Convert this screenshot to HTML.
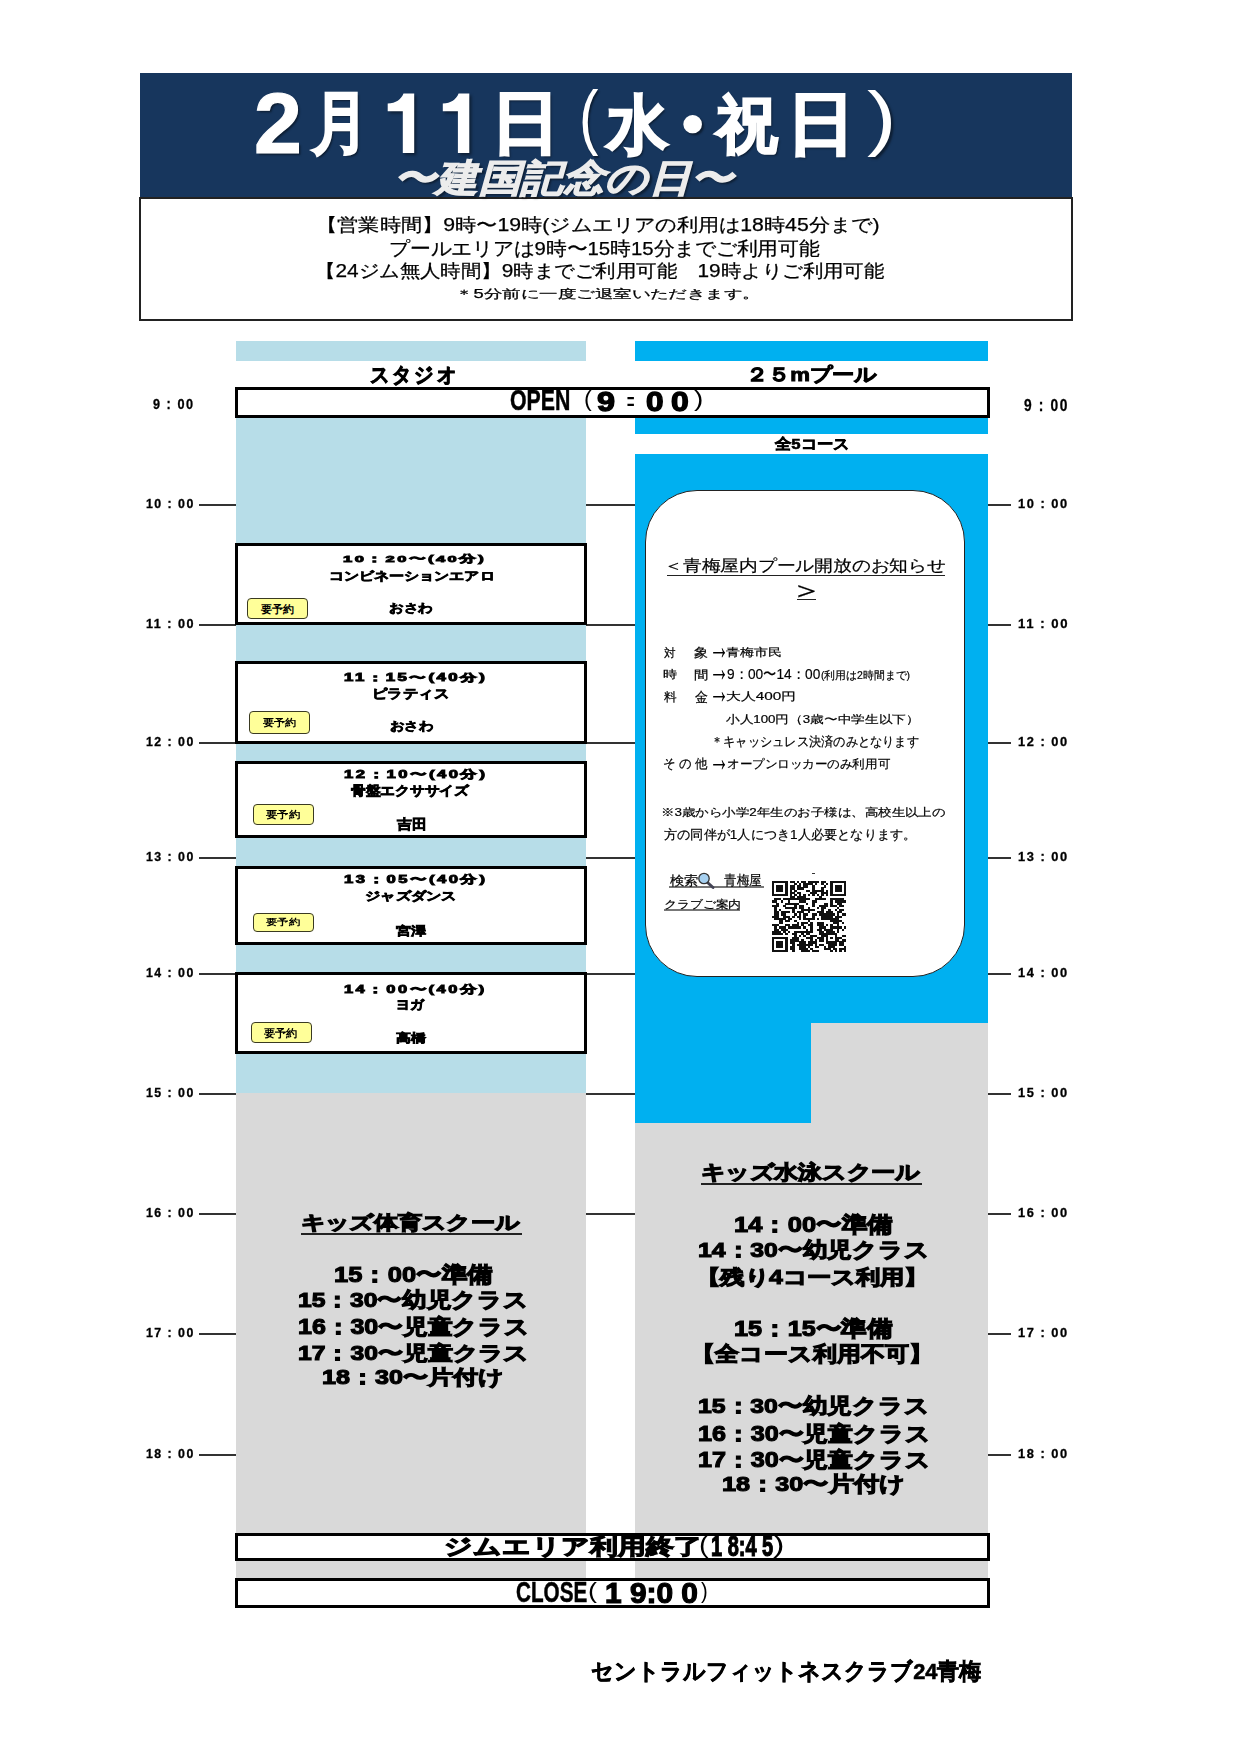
<!DOCTYPE html>
<html lang="ja"><head><meta charset="utf-8">
<style>
html,body{margin:0;padding:0;background:#fff;}
body{width:1240px;height:1754px;position:relative;overflow:hidden;font-family:"Liberation Sans",sans-serif;color:#000;}
.a{position:absolute;}
.t{position:absolute;white-space:nowrap;transform-origin:0 0;}
.lb{background:#b7dde8;}
.pb{background:#00b0f0;}
.gr{background:#d9d9d9;}
.box{position:absolute;box-sizing:border-box;border:3px solid #000;background:#fff;}
.ln{position:absolute;height:1.5px;background:#333;}
.badge{position:absolute;box-sizing:border-box;border:1.5px solid #3a3a22;border-radius:4px;background:#ffff99;}
</style></head><body>
<div class="a" style="left:140px;top:73px;width:932px;height:124px;background:#17365d;"></div>
<div class="a lb" style="left:236px;top:341px;width:350px;height:20px;"></div>
<div class="a pb" style="left:635px;top:341px;width:353px;height:20px;"></div>
<div class="a lb" style="left:236px;top:417px;width:350px;height:676px;"></div>
<div class="a gr" style="left:236px;top:1093px;width:350px;height:441px;"></div>
<div class="a gr" style="left:236px;top:1560px;width:350px;height:19px;"></div>
<div class="a pb" style="left:635px;top:417px;width:353px;height:17px;"></div>
<div class="a pb" style="left:635px;top:454px;width:353px;height:569px;"></div>
<div class="a pb" style="left:635px;top:1023px;width:176px;height:100px;"></div>
<div class="a gr" style="left:811px;top:1023px;width:177px;height:100px;"></div>
<div class="a gr" style="left:635px;top:1123px;width:353px;height:411px;"></div>
<div class="a gr" style="left:635px;top:1560px;width:353px;height:19px;"></div>
<div class="ln" style="left:199px;top:504px;width:37px;"></div>
<div class="ln" style="left:988px;top:504px;width:23px;"></div>
<div class="ln" style="left:586px;top:504px;width:49px;"></div>
<div class="ln" style="left:199px;top:624px;width:37px;"></div>
<div class="ln" style="left:988px;top:624px;width:23px;"></div>
<div class="ln" style="left:586px;top:624px;width:49px;"></div>
<div class="ln" style="left:199px;top:742px;width:37px;"></div>
<div class="ln" style="left:988px;top:742px;width:23px;"></div>
<div class="ln" style="left:586px;top:742px;width:49px;"></div>
<div class="ln" style="left:199px;top:857px;width:37px;"></div>
<div class="ln" style="left:988px;top:857px;width:23px;"></div>
<div class="ln" style="left:586px;top:857px;width:49px;"></div>
<div class="ln" style="left:199px;top:973px;width:37px;"></div>
<div class="ln" style="left:988px;top:973px;width:23px;"></div>
<div class="ln" style="left:586px;top:973px;width:49px;"></div>
<div class="ln" style="left:199px;top:1093px;width:37px;"></div>
<div class="ln" style="left:988px;top:1093px;width:23px;"></div>
<div class="ln" style="left:586px;top:1093px;width:49px;"></div>
<div class="ln" style="left:199px;top:1213px;width:37px;"></div>
<div class="ln" style="left:988px;top:1213px;width:23px;"></div>
<div class="ln" style="left:586px;top:1213px;width:49px;"></div>
<div class="ln" style="left:199px;top:1333px;width:37px;"></div>
<div class="ln" style="left:988px;top:1333px;width:23px;"></div>
<div class="ln" style="left:199px;top:1454px;width:37px;"></div>
<div class="ln" style="left:988px;top:1454px;width:23px;"></div>
<div class="a" style="left:139px;top:197px;width:934px;height:124px;box-sizing:border-box;border:2px solid #222;"></div>
<div class="box" style="left:235px;top:387px;width:755px;height:31px;"></div>
<div class="box" style="left:235px;top:543px;width:352px;height:82px;"></div>
<div class="box" style="left:235px;top:661px;width:352px;height:83px;"></div>
<div class="box" style="left:235px;top:761px;width:352px;height:77px;"></div>
<div class="box" style="left:235px;top:866px;width:352px;height:79px;"></div>
<div class="box" style="left:235px;top:972px;width:352px;height:82px;"></div>
<div class="box" style="left:235px;top:1533px;width:755px;height:28px;"></div>
<div class="box" style="left:235px;top:1578px;width:755px;height:30px;"></div>
<div class="badge" style="left:246.5px;top:598.2px;width:61.6px;height:20.9px;"></div>
<div class="badge" style="left:249.2px;top:711.4px;width:61.3px;height:22.4px;"></div>
<div class="badge" style="left:252.6px;top:803.5px;width:61.1px;height:21.8px;"></div>
<div class="badge" style="left:252.6px;top:912.8px;width:61.1px;height:19.2px;"></div>
<div class="badge" style="left:250.5px;top:1022.0px;width:61.1px;height:21.3px;"></div>
<div class="a" style="left:645px;top:490px;width:320px;height:487px;box-sizing:border-box;border:1.5px solid #222;border-radius:52px;background:#fff;"></div>
<div class="a" style="left:666.8px;top:574.5px;width:278.70000000000005px;height:1.5px;background:#222;"></div>
<div class="a" style="left:796.7px;top:598.7px;width:19.299999999999955px;height:1.5px;background:#222;"></div>
<div class="a" style="left:669px;top:886px;width:95px;height:1.5px;background:#777;"></div>
<div class="a" style="left:663.5px;top:909px;width:76.5px;height:1.5px;background:#777;"></div>
<div class="a" style="left:301px;top:1232.5px;width:220.60000000000002px;height:2px;background:#222;"></div>
<div class="a" style="left:701.4px;top:1182.5px;width:220.60000000000002px;height:2px;background:#222;"></div>
<svg class="a" style="left:772.1px;top:881.4px;" width="74.2" height="71.3" viewBox="0 0 74.2 71.3" shape-rendering="crispEdges"><g fill="#111"><rect x="0.00" y="0.00" width="15.79" height="2.21"/><rect x="17.99" y="0.00" width="4.55" height="2.21"/><rect x="24.73" y="0.00" width="2.30" height="2.21"/><rect x="29.23" y="0.00" width="4.55" height="2.21"/><rect x="35.98" y="0.00" width="11.29" height="2.21"/><rect x="49.47" y="0.00" width="4.55" height="2.21"/><rect x="58.46" y="0.00" width="15.79" height="2.21"/><rect x="0.00" y="2.16" width="2.30" height="2.21"/><rect x="13.49" y="2.16" width="2.30" height="2.21"/><rect x="22.48" y="2.16" width="2.30" height="2.21"/><rect x="26.98" y="2.16" width="2.30" height="2.21"/><rect x="31.48" y="2.16" width="9.04" height="2.21"/><rect x="42.72" y="2.16" width="2.30" height="2.21"/><rect x="49.47" y="2.16" width="2.30" height="2.21"/><rect x="53.96" y="2.16" width="2.30" height="2.21"/><rect x="58.46" y="2.16" width="2.30" height="2.21"/><rect x="71.95" y="2.16" width="2.30" height="2.21"/><rect x="0.00" y="4.32" width="2.30" height="2.21"/><rect x="4.50" y="4.32" width="6.80" height="2.21"/><rect x="13.49" y="4.32" width="2.30" height="2.21"/><rect x="17.99" y="4.32" width="4.55" height="2.21"/><rect x="24.73" y="4.32" width="4.55" height="2.21"/><rect x="31.48" y="4.32" width="4.55" height="2.21"/><rect x="40.47" y="4.32" width="2.30" height="2.21"/><rect x="51.72" y="4.32" width="2.30" height="2.21"/><rect x="58.46" y="4.32" width="2.30" height="2.21"/><rect x="62.96" y="4.32" width="6.80" height="2.21"/><rect x="71.95" y="4.32" width="2.30" height="2.21"/><rect x="0.00" y="6.48" width="2.30" height="2.21"/><rect x="4.50" y="6.48" width="6.80" height="2.21"/><rect x="13.49" y="6.48" width="2.30" height="2.21"/><rect x="17.99" y="6.48" width="4.55" height="2.21"/><rect x="24.73" y="6.48" width="6.80" height="2.21"/><rect x="40.47" y="6.48" width="2.30" height="2.21"/><rect x="49.47" y="6.48" width="2.30" height="2.21"/><rect x="58.46" y="6.48" width="2.30" height="2.21"/><rect x="62.96" y="6.48" width="6.80" height="2.21"/><rect x="71.95" y="6.48" width="2.30" height="2.21"/><rect x="0.00" y="8.64" width="2.30" height="2.21"/><rect x="4.50" y="8.64" width="6.80" height="2.21"/><rect x="13.49" y="8.64" width="2.30" height="2.21"/><rect x="17.99" y="8.64" width="2.30" height="2.21"/><rect x="22.48" y="8.64" width="2.30" height="2.21"/><rect x="33.73" y="8.64" width="4.55" height="2.21"/><rect x="40.47" y="8.64" width="11.29" height="2.21"/><rect x="53.96" y="8.64" width="2.30" height="2.21"/><rect x="58.46" y="8.64" width="2.30" height="2.21"/><rect x="62.96" y="8.64" width="6.80" height="2.21"/><rect x="71.95" y="8.64" width="2.30" height="2.21"/><rect x="0.00" y="10.80" width="2.30" height="2.21"/><rect x="13.49" y="10.80" width="2.30" height="2.21"/><rect x="17.99" y="10.80" width="4.55" height="2.21"/><rect x="24.73" y="10.80" width="4.55" height="2.21"/><rect x="38.22" y="10.80" width="6.80" height="2.21"/><rect x="49.47" y="10.80" width="6.80" height="2.21"/><rect x="58.46" y="10.80" width="2.30" height="2.21"/><rect x="71.95" y="10.80" width="2.30" height="2.21"/><rect x="0.00" y="12.96" width="15.79" height="2.21"/><rect x="17.99" y="12.96" width="2.30" height="2.21"/><rect x="22.48" y="12.96" width="2.30" height="2.21"/><rect x="26.98" y="12.96" width="2.30" height="2.21"/><rect x="31.48" y="12.96" width="2.30" height="2.21"/><rect x="35.98" y="12.96" width="2.30" height="2.21"/><rect x="40.47" y="12.96" width="2.30" height="2.21"/><rect x="44.97" y="12.96" width="2.30" height="2.21"/><rect x="49.47" y="12.96" width="2.30" height="2.21"/><rect x="53.96" y="12.96" width="2.30" height="2.21"/><rect x="58.46" y="12.96" width="15.79" height="2.21"/><rect x="17.99" y="15.12" width="4.55" height="2.21"/><rect x="24.73" y="15.12" width="9.04" height="2.21"/><rect x="47.22" y="15.12" width="2.30" height="2.21"/><rect x="2.25" y="17.28" width="6.80" height="2.21"/><rect x="11.24" y="17.28" width="27.03" height="2.21"/><rect x="42.72" y="17.28" width="11.29" height="2.21"/><rect x="58.46" y="17.28" width="13.54" height="2.21"/><rect x="0.00" y="19.45" width="4.55" height="2.21"/><rect x="8.99" y="19.45" width="2.30" height="2.21"/><rect x="15.74" y="19.45" width="2.30" height="2.21"/><rect x="26.98" y="19.45" width="6.80" height="2.21"/><rect x="40.47" y="19.45" width="4.55" height="2.21"/><rect x="58.46" y="19.45" width="2.30" height="2.21"/><rect x="62.96" y="19.45" width="11.29" height="2.21"/><rect x="4.50" y="21.61" width="2.30" height="2.21"/><rect x="13.49" y="21.61" width="13.54" height="2.21"/><rect x="33.73" y="21.61" width="2.30" height="2.21"/><rect x="40.47" y="21.61" width="2.30" height="2.21"/><rect x="51.72" y="21.61" width="4.55" height="2.21"/><rect x="58.46" y="21.61" width="2.30" height="2.21"/><rect x="65.21" y="21.61" width="4.55" height="2.21"/><rect x="0.00" y="23.77" width="6.80" height="2.21"/><rect x="11.24" y="23.77" width="2.30" height="2.21"/><rect x="22.48" y="23.77" width="2.30" height="2.21"/><rect x="26.98" y="23.77" width="4.55" height="2.21"/><rect x="40.47" y="23.77" width="2.30" height="2.21"/><rect x="47.22" y="23.77" width="9.04" height="2.21"/><rect x="58.46" y="23.77" width="6.80" height="2.21"/><rect x="67.45" y="23.77" width="4.55" height="2.21"/><rect x="2.25" y="25.93" width="2.30" height="2.21"/><rect x="13.49" y="25.93" width="11.29" height="2.21"/><rect x="26.98" y="25.93" width="4.55" height="2.21"/><rect x="35.98" y="25.93" width="2.30" height="2.21"/><rect x="44.97" y="25.93" width="2.30" height="2.21"/><rect x="49.47" y="25.93" width="4.55" height="2.21"/><rect x="65.21" y="25.93" width="2.30" height="2.21"/><rect x="2.25" y="28.09" width="2.30" height="2.21"/><rect x="6.75" y="28.09" width="2.30" height="2.21"/><rect x="20.24" y="28.09" width="2.30" height="2.21"/><rect x="29.23" y="28.09" width="13.54" height="2.21"/><rect x="49.47" y="28.09" width="2.30" height="2.21"/><rect x="56.21" y="28.09" width="2.30" height="2.21"/><rect x="62.96" y="28.09" width="2.30" height="2.21"/><rect x="67.45" y="28.09" width="4.55" height="2.21"/><rect x="2.25" y="30.25" width="4.55" height="2.21"/><rect x="8.99" y="30.25" width="9.04" height="2.21"/><rect x="20.24" y="30.25" width="2.30" height="2.21"/><rect x="24.73" y="30.25" width="6.80" height="2.21"/><rect x="35.98" y="30.25" width="2.30" height="2.21"/><rect x="44.97" y="30.25" width="6.80" height="2.21"/><rect x="53.96" y="30.25" width="6.80" height="2.21"/><rect x="65.21" y="30.25" width="4.55" height="2.21"/><rect x="2.25" y="32.41" width="4.55" height="2.21"/><rect x="8.99" y="32.41" width="4.55" height="2.21"/><rect x="22.48" y="32.41" width="2.30" height="2.21"/><rect x="26.98" y="32.41" width="2.30" height="2.21"/><rect x="31.48" y="32.41" width="4.55" height="2.21"/><rect x="40.47" y="32.41" width="4.55" height="2.21"/><rect x="47.22" y="32.41" width="15.79" height="2.21"/><rect x="65.21" y="32.41" width="2.30" height="2.21"/><rect x="69.70" y="32.41" width="4.55" height="2.21"/><rect x="0.00" y="34.57" width="6.80" height="2.21"/><rect x="11.24" y="34.57" width="6.80" height="2.21"/><rect x="20.24" y="34.57" width="2.30" height="2.21"/><rect x="24.73" y="34.57" width="4.55" height="2.21"/><rect x="31.48" y="34.57" width="2.30" height="2.21"/><rect x="40.47" y="34.57" width="2.30" height="2.21"/><rect x="49.47" y="34.57" width="11.29" height="2.21"/><rect x="62.96" y="34.57" width="6.80" height="2.21"/><rect x="2.25" y="36.73" width="11.29" height="2.21"/><rect x="15.74" y="36.73" width="4.55" height="2.21"/><rect x="26.98" y="36.73" width="2.30" height="2.21"/><rect x="31.48" y="36.73" width="11.29" height="2.21"/><rect x="44.97" y="36.73" width="2.30" height="2.21"/><rect x="49.47" y="36.73" width="18.04" height="2.21"/><rect x="6.75" y="38.89" width="4.55" height="2.21"/><rect x="13.49" y="38.89" width="4.55" height="2.21"/><rect x="22.48" y="38.89" width="2.30" height="2.21"/><rect x="35.98" y="38.89" width="2.30" height="2.21"/><rect x="58.46" y="38.89" width="11.29" height="2.21"/><rect x="6.75" y="41.05" width="4.55" height="2.21"/><rect x="24.73" y="41.05" width="2.30" height="2.21"/><rect x="29.23" y="41.05" width="6.80" height="2.21"/><rect x="38.22" y="41.05" width="2.30" height="2.21"/><rect x="44.97" y="41.05" width="6.80" height="2.21"/><rect x="60.71" y="41.05" width="6.80" height="2.21"/><rect x="69.70" y="41.05" width="2.30" height="2.21"/><rect x="0.00" y="43.21" width="6.80" height="2.21"/><rect x="13.49" y="43.21" width="4.55" height="2.21"/><rect x="20.24" y="43.21" width="6.80" height="2.21"/><rect x="29.23" y="43.21" width="2.30" height="2.21"/><rect x="35.98" y="43.21" width="4.55" height="2.21"/><rect x="44.97" y="43.21" width="6.80" height="2.21"/><rect x="53.96" y="43.21" width="2.30" height="2.21"/><rect x="58.46" y="43.21" width="2.30" height="2.21"/><rect x="65.21" y="43.21" width="2.30" height="2.21"/><rect x="2.25" y="45.37" width="2.30" height="2.21"/><rect x="6.75" y="45.37" width="6.80" height="2.21"/><rect x="15.74" y="45.37" width="13.54" height="2.21"/><rect x="31.48" y="45.37" width="2.30" height="2.21"/><rect x="38.22" y="45.37" width="2.30" height="2.21"/><rect x="47.22" y="45.37" width="6.80" height="2.21"/><rect x="58.46" y="45.37" width="11.29" height="2.21"/><rect x="71.95" y="45.37" width="2.30" height="2.21"/><rect x="2.25" y="47.53" width="4.55" height="2.21"/><rect x="8.99" y="47.53" width="6.80" height="2.21"/><rect x="33.73" y="47.53" width="2.30" height="2.21"/><rect x="38.22" y="47.53" width="2.30" height="2.21"/><rect x="44.97" y="47.53" width="4.55" height="2.21"/><rect x="51.72" y="47.53" width="9.04" height="2.21"/><rect x="65.21" y="47.53" width="2.30" height="2.21"/><rect x="69.70" y="47.53" width="2.30" height="2.21"/><rect x="0.00" y="49.69" width="9.04" height="2.21"/><rect x="11.24" y="49.69" width="2.30" height="2.21"/><rect x="15.74" y="49.69" width="2.30" height="2.21"/><rect x="22.48" y="49.69" width="18.04" height="2.21"/><rect x="47.22" y="49.69" width="4.55" height="2.21"/><rect x="53.96" y="49.69" width="9.04" height="2.21"/><rect x="65.21" y="49.69" width="2.30" height="2.21"/><rect x="0.00" y="51.85" width="11.29" height="2.21"/><rect x="13.49" y="51.85" width="2.30" height="2.21"/><rect x="20.24" y="51.85" width="4.55" height="2.21"/><rect x="29.23" y="51.85" width="2.30" height="2.21"/><rect x="33.73" y="51.85" width="4.55" height="2.21"/><rect x="47.22" y="51.85" width="18.04" height="2.21"/><rect x="22.48" y="54.02" width="2.30" height="2.21"/><rect x="26.98" y="54.02" width="2.30" height="2.21"/><rect x="31.48" y="54.02" width="2.30" height="2.21"/><rect x="38.22" y="54.02" width="6.80" height="2.21"/><rect x="49.47" y="54.02" width="6.80" height="2.21"/><rect x="62.96" y="54.02" width="2.30" height="2.21"/><rect x="69.70" y="54.02" width="4.55" height="2.21"/><rect x="0.00" y="56.18" width="15.79" height="2.21"/><rect x="20.24" y="56.18" width="6.80" height="2.21"/><rect x="33.73" y="56.18" width="6.80" height="2.21"/><rect x="44.97" y="56.18" width="6.80" height="2.21"/><rect x="53.96" y="56.18" width="2.30" height="2.21"/><rect x="58.46" y="56.18" width="2.30" height="2.21"/><rect x="62.96" y="56.18" width="6.80" height="2.21"/><rect x="0.00" y="58.34" width="2.30" height="2.21"/><rect x="13.49" y="58.34" width="2.30" height="2.21"/><rect x="17.99" y="58.34" width="9.04" height="2.21"/><rect x="29.23" y="58.34" width="2.30" height="2.21"/><rect x="38.22" y="58.34" width="2.30" height="2.21"/><rect x="42.72" y="58.34" width="2.30" height="2.21"/><rect x="47.22" y="58.34" width="4.55" height="2.21"/><rect x="53.96" y="58.34" width="2.30" height="2.21"/><rect x="62.96" y="58.34" width="4.55" height="2.21"/><rect x="69.70" y="58.34" width="4.55" height="2.21"/><rect x="0.00" y="60.50" width="2.30" height="2.21"/><rect x="4.50" y="60.50" width="6.80" height="2.21"/><rect x="13.49" y="60.50" width="2.30" height="2.21"/><rect x="17.99" y="60.50" width="4.55" height="2.21"/><rect x="26.98" y="60.50" width="6.80" height="2.21"/><rect x="35.98" y="60.50" width="9.04" height="2.21"/><rect x="53.96" y="60.50" width="11.29" height="2.21"/><rect x="67.45" y="60.50" width="4.55" height="2.21"/><rect x="0.00" y="62.66" width="2.30" height="2.21"/><rect x="4.50" y="62.66" width="6.80" height="2.21"/><rect x="13.49" y="62.66" width="2.30" height="2.21"/><rect x="20.24" y="62.66" width="2.30" height="2.21"/><rect x="24.73" y="62.66" width="15.79" height="2.21"/><rect x="42.72" y="62.66" width="2.30" height="2.21"/><rect x="47.22" y="62.66" width="4.55" height="2.21"/><rect x="56.21" y="62.66" width="9.04" height="2.21"/><rect x="67.45" y="62.66" width="4.55" height="2.21"/><rect x="0.00" y="64.82" width="2.30" height="2.21"/><rect x="4.50" y="64.82" width="6.80" height="2.21"/><rect x="13.49" y="64.82" width="2.30" height="2.21"/><rect x="17.99" y="64.82" width="4.55" height="2.21"/><rect x="26.98" y="64.82" width="6.80" height="2.21"/><rect x="35.98" y="64.82" width="2.30" height="2.21"/><rect x="42.72" y="64.82" width="4.55" height="2.21"/><rect x="51.72" y="64.82" width="2.30" height="2.21"/><rect x="56.21" y="64.82" width="6.80" height="2.21"/><rect x="71.95" y="64.82" width="2.30" height="2.21"/><rect x="0.00" y="66.98" width="2.30" height="2.21"/><rect x="13.49" y="66.98" width="2.30" height="2.21"/><rect x="17.99" y="66.98" width="4.55" height="2.21"/><rect x="26.98" y="66.98" width="9.04" height="2.21"/><rect x="38.22" y="66.98" width="2.30" height="2.21"/><rect x="51.72" y="66.98" width="6.80" height="2.21"/><rect x="60.71" y="66.98" width="4.55" height="2.21"/><rect x="67.45" y="66.98" width="6.80" height="2.21"/><rect x="0.00" y="69.14" width="15.79" height="2.21"/><rect x="20.24" y="69.14" width="2.30" height="2.21"/><rect x="29.23" y="69.14" width="9.04" height="2.21"/><rect x="40.47" y="69.14" width="6.80" height="2.21"/><rect x="58.46" y="69.14" width="2.30" height="2.21"/><rect x="62.96" y="69.14" width="2.30" height="2.21"/><rect x="67.45" y="69.14" width="2.30" height="2.21"/><rect x="71.95" y="69.14" width="2.30" height="2.21"/></g></svg>
<svg class="a" style="left:696px;top:871px;" width="20" height="20" viewBox="0 0 20 20"><line x1="11.5" y1="11.5" x2="17" y2="16.5" stroke="#445" stroke-width="3" stroke-linecap="round"/><circle cx="8" cy="7.5" r="5.2" fill="#a6d0f0" stroke="#333" stroke-width="1.3"/></svg>
<div class="a" style="left:812px;top:873px;width:3px;height:1px;background:#333;"></div>
<svg class="a" style="left:0;top:0;filter:drop-shadow(2px 2px 1.5px rgba(0,0,0,0.45));" width="600" height="200" viewBox="0 0 600 200"><g fill="#fff"><path transform="translate(0.0,0)" d="M414.2 93.4 L403.5 93.4 C401 99.5 396 103 387.7 103.4 L387.7 111.2 L402.8 111.2 L402.8 152.9 L414.2 152.9 Z"/><path transform="translate(55.1,0)" d="M414.2 93.4 L403.5 93.4 C401 99.5 396 103 387.7 103.4 L387.7 111.2 L402.8 111.2 L402.8 152.9 L414.2 152.9 Z"/></g></svg>
<div class="t" style="left:254.48px;top:81.40px;font-size:85.006px;line-height:85.006px;font-weight:bold;-webkit-text-stroke:1.2px #fff;transform:scaleX(1.0119);color:#fff;text-shadow:2px 2px 2px rgba(0,0,0,0.45);">2</div>
<div class="t" style="left:312.36px;top:89.30px;font-size:67.771px;line-height:67.771px;font-weight:bold;-webkit-text-stroke:2.2px #fff;transform:scaleX(0.8298);color:#fff;text-shadow:2px 2px 2px rgba(0,0,0,0.45);">月</div>
<div class="t" style="left:490.84px;top:88.00px;font-size:68.421px;line-height:68.421px;font-weight:bold;-webkit-text-stroke:2.2px #fff;transform:scaleX(1.0200);color:#fff;text-shadow:2px 2px 2px rgba(0,0,0,0.45);">日</div>
<div class="t" style="left:578.67px;top:80.10px;font-size:72.371px;line-height:72.371px;transform:scaleX(0.8056);color:#fff;text-shadow:2px 2px 2px rgba(0,0,0,0.45);">(</div>
<div class="t" style="left:607.37px;top:93.50px;font-size:63.842px;line-height:63.842px;font-weight:bold;-webkit-text-stroke:2.2px #fff;transform:scaleX(0.9551);color:#fff;text-shadow:2px 2px 2px rgba(0,0,0,0.45);">水</div>
<div class="t" style="left:642.56px;top:77.00px;font-size:96.149px;line-height:96.149px;font-weight:bold;transform:scaleX(1.0111);color:#fff;text-shadow:2px 2px 2px rgba(0,0,0,0.45);">・</div>
<div class="t" style="left:717.41px;top:94.00px;font-size:61.919px;line-height:61.919px;font-weight:bold;-webkit-text-stroke:2.2px #fff;transform:scaleX(0.9776);color:#fff;text-shadow:2px 2px 2px rgba(0,0,0,0.45);">祝</div>
<div class="t" style="left:786.77px;top:90.30px;font-size:67.907px;line-height:67.907px;font-weight:bold;-webkit-text-stroke:2.2px #fff;transform:scaleX(1.0040);color:#fff;text-shadow:2px 2px 2px rgba(0,0,0,0.45);">日</div>
<div class="t" style="left:867.39px;top:79.70px;font-size:73.005px;line-height:73.005px;transform:scaleX(1.2105);color:#fff;text-shadow:2px 2px 2px rgba(0,0,0,0.45);">)</div>
<div class="t" style="left:394.25px;top:159.70px;font-size:37.652px;line-height:37.652px;font-weight:bold;font-style:italic;-webkit-text-stroke:1.2px #ececec;transform:scaleX(1.1128);color:#ececec;text-shadow:2px 2px 2px rgba(0,0,0,0.45);">〜建国記念の日〜</div>
<div class="t" style="left:316.04px;top:215.70px;font-size:18.062px;line-height:18.062px;-webkit-text-stroke:0.25px #000;transform:scaleX(1.1781);">【営業時間】9時〜19時(ジムエリアの利用は18時45分まで)</div>
<div class="t" style="left:388.81px;top:239.70px;font-size:18.607px;line-height:18.607px;-webkit-text-stroke:0.25px #000;transform:scaleX(1.0944);">プールエリアは9時〜15時15分までご利用可能</div>
<div class="t" style="left:314.50px;top:261.70px;font-size:18.302px;line-height:18.302px;-webkit-text-stroke:0.25px #000;transform:scaleX(1.1367);">【24ジム無人時間】9時までご利用可能　19時よりご利用可能</div>
<div class="t" style="left:454.84px;top:289.30px;font-size:11.906px;line-height:11.906px;-webkit-text-stroke:0.25px #000;transform:scaleX(1.5401);">＊5分前に一度ご退室いただきます。</div>
<div class="t" style="left:370.30px;top:364.50px;font-size:21.290px;line-height:21.290px;font-weight:bold;letter-spacing:0.1em;-webkit-text-stroke:0.9px #000;transform:scaleX(0.9207);">スタジオ</div>
<div class="t" style="left:745.93px;top:364.90px;font-size:19.018px;line-height:19.018px;font-weight:bold;-webkit-text-stroke:0.9px #000;transform:scaleX(1.1670);">２５mプール</div>
<div class="t" style="left:509.86px;top:386.30px;font-size:28.660px;line-height:28.660px;font-weight:bold;-webkit-text-stroke:0.5px #000;transform:scaleX(0.7418);">OPEN</div>
<div class="t" style="left:584.17px;top:388.30px;font-size:22.563px;line-height:22.563px;transform:scaleX(1.0333);">(</div>
<div class="t" style="left:597.20px;top:389.20px;font-size:26.862px;line-height:26.862px;font-weight:bold;-webkit-text-stroke:1.3px #000;transform:scaleX(1.2067);">9</div>
<div class="t" style="left:623.20px;top:391.50px;font-size:17.113px;line-height:17.113px;font-weight:bold;transform:scaleX(2.7000);">:</div>
<div class="t" style="left:646.40px;top:389.20px;font-size:26.862px;line-height:26.862px;font-weight:bold;-webkit-text-stroke:1.3px #000;transform:scaleX(1.1733);">0</div>
<div class="t" style="left:671.20px;top:389.20px;font-size:26.862px;line-height:26.862px;font-weight:bold;-webkit-text-stroke:1.3px #000;transform:scaleX(1.1867);">0</div>
<div class="t" style="left:693.96px;top:388.30px;font-size:22.563px;line-height:22.563px;transform:scaleX(1.2400);">)</div>
<div class="t" style="left:775.00px;top:435.90px;font-size:15.370px;line-height:15.370px;font-weight:bold;-webkit-text-stroke:0.6px #000;transform:scaleX(1.0882);">全5コース</div>
<div class="t" style="left:342.50px;top:553.80px;font-size:9.936px;line-height:9.936px;font-weight:bold;letter-spacing:0.15em;-webkit-text-stroke:0.9px #000;transform:scaleX(1.6647);">10：20〜(40分)</div>
<div class="t" style="left:329.45px;top:570.80px;font-size:11.506px;line-height:11.506px;font-weight:bold;-webkit-text-stroke:0.7px #000;transform:scaleX(1.2543);">コンビネーションエアロ</div>
<div class="t" style="left:389.30px;top:601.80px;font-size:12.000px;line-height:12.000px;font-weight:bold;-webkit-text-stroke:0.7px #000;transform:scaleX(1.2139);">おさわ</div>
<div class="t" style="left:261.00px;top:603.90px;font-size:10.950px;line-height:10.950px;font-weight:bold;">要予約</div>
<div class="t" style="left:343.50px;top:672.60px;font-size:10.144px;line-height:10.144px;font-weight:bold;letter-spacing:0.15em;-webkit-text-stroke:0.9px #000;transform:scaleX(1.6529);">11：15〜(40分)</div>
<div class="t" style="left:372.03px;top:687.00px;font-size:13.064px;line-height:13.064px;font-weight:bold;-webkit-text-stroke:0.7px #000;transform:scaleX(1.1839);">ピラティス</div>
<div class="t" style="left:389.70px;top:720.00px;font-size:12.000px;line-height:12.000px;font-weight:bold;-webkit-text-stroke:0.7px #000;transform:scaleX(1.2028);">おさわ</div>
<div class="t" style="left:262.60px;top:717.80px;font-size:10.183px;line-height:10.183px;font-weight:bold;transform:scaleX(1.1133);">要予約</div>
<div class="t" style="left:343.50px;top:769.20px;font-size:11.151px;line-height:11.151px;font-weight:bold;letter-spacing:0.15em;-webkit-text-stroke:0.9px #000;transform:scaleX(1.4947);">12：10〜(40分)</div>
<div class="t" style="left:351.00px;top:784.40px;font-size:13.223px;line-height:13.223px;font-weight:bold;-webkit-text-stroke:0.7px #000;transform:scaleX(1.1333);">骨盤エクササイズ</div>
<div class="t" style="left:396.70px;top:817.70px;font-size:13.702px;line-height:13.702px;font-weight:bold;-webkit-text-stroke:0.7px #000;transform:scaleX(1.0667);">吉田</div>
<div class="t" style="left:265.80px;top:810.00px;font-size:10.129px;line-height:10.129px;font-weight:bold;transform:scaleX(1.1367);">要予約</div>
<div class="t" style="left:343.50px;top:874.20px;font-size:11.151px;line-height:11.151px;font-weight:bold;letter-spacing:0.15em;-webkit-text-stroke:0.9px #000;transform:scaleX(1.4947);">13：05〜(40分)</div>
<div class="t" style="left:365.03px;top:889.80px;font-size:12.278px;line-height:12.278px;font-weight:bold;-webkit-text-stroke:0.7px #000;transform:scaleX(1.2714);">ジャズダンス</div>
<div class="t" style="left:396.00px;top:924.90px;font-size:11.730px;line-height:11.730px;font-weight:bold;-webkit-text-stroke:0.7px #000;transform:scaleX(1.2500);">宮澤</div>
<div class="t" style="left:265.80px;top:917.90px;font-size:8.859px;line-height:8.859px;font-weight:bold;transform:scaleX(1.2630);">要予約</div>
<div class="t" style="left:343.50px;top:983.50px;font-size:10.892px;line-height:10.892px;font-weight:bold;letter-spacing:0.15em;-webkit-text-stroke:0.9px #000;transform:scaleX(1.5108);">14：00〜(40分)</div>
<div class="t" style="left:396.34px;top:999.00px;font-size:12.678px;line-height:12.678px;font-weight:bold;-webkit-text-stroke:0.7px #000;transform:scaleX(1.0615);">ヨガ</div>
<div class="t" style="left:396.00px;top:1032.40px;font-size:12.075px;line-height:12.075px;font-weight:bold;-webkit-text-stroke:0.7px #000;transform:scaleX(1.2500);">高橋</div>
<div class="t" style="left:263.70px;top:1028.40px;font-size:10.608px;line-height:10.608px;font-weight:bold;transform:scaleX(1.0182);">要予約</div>
<div class="t" style="left:300.73px;top:1213.50px;font-size:18.793px;line-height:18.793px;font-weight:bold;-webkit-text-stroke:1.1px #000;transform:scaleX(1.2749);">キッズ体育スクール</div>
<div class="t" style="left:333.84px;top:1263.50px;font-size:21.964px;line-height:21.964px;font-weight:bold;-webkit-text-stroke:1.1px #000;transform:scaleX(1.1603);">15：00〜準備</div>
<div class="t" style="left:297.73px;top:1289.00px;font-size:21.043px;line-height:21.043px;font-weight:bold;-webkit-text-stroke:1.1px #000;transform:scaleX(1.1727);">15：30〜幼児クラス</div>
<div class="t" style="left:297.73px;top:1317.30px;font-size:21.334px;line-height:21.334px;font-weight:bold;-webkit-text-stroke:1.1px #000;transform:scaleX(1.1727);">16：30〜児童クラス</div>
<div class="t" style="left:297.65px;top:1343.50px;font-size:19.746px;line-height:19.746px;font-weight:bold;-webkit-text-stroke:1.1px #000;transform:scaleX(1.2500);">17：30〜児童クラス</div>
<div class="t" style="left:321.75px;top:1366.70px;font-size:20.041px;line-height:20.041px;font-weight:bold;-webkit-text-stroke:1.1px #000;transform:scaleX(1.2538);">18：30〜片付け</div>
<div class="t" style="left:701.39px;top:1161.50px;font-size:20.365px;line-height:20.365px;font-weight:bold;-webkit-text-stroke:1.1px #000;transform:scaleX(1.2133);">キッズ水泳スクール</div>
<div class="t" style="left:733.84px;top:1213.50px;font-size:21.964px;line-height:21.964px;font-weight:bold;-webkit-text-stroke:1.1px #000;transform:scaleX(1.1603);">14：00〜準備</div>
<div class="t" style="left:697.72px;top:1239.00px;font-size:21.043px;line-height:21.043px;font-weight:bold;-webkit-text-stroke:1.1px #000;transform:scaleX(1.1778);">14：30〜幼児クラス</div>
<div class="t" style="left:695.80px;top:1267.40px;font-size:20.365px;line-height:20.365px;font-weight:bold;-webkit-text-stroke:1.1px #000;transform:scaleX(1.2167);">【残り4コース利用】</div>
<div class="t" style="left:734.44px;top:1317.80px;font-size:21.680px;line-height:21.680px;font-weight:bold;-webkit-text-stroke:1.1px #000;transform:scaleX(1.1644);">15：15〜準備</div>
<div class="t" style="left:691.49px;top:1344.00px;font-size:20.898px;line-height:20.898px;font-weight:bold;-webkit-text-stroke:1.1px #000;transform:scaleX(1.1426);">【全コース利用不可】</div>
<div class="t" style="left:697.72px;top:1395.40px;font-size:21.043px;line-height:21.043px;font-weight:bold;-webkit-text-stroke:1.1px #000;transform:scaleX(1.1778);">15：30〜幼児クラス</div>
<div class="t" style="left:697.72px;top:1423.60px;font-size:21.334px;line-height:21.334px;font-weight:bold;-webkit-text-stroke:1.1px #000;transform:scaleX(1.1778);">16：30〜児童クラス</div>
<div class="t" style="left:697.72px;top:1449.80px;font-size:21.334px;line-height:21.334px;font-weight:bold;-webkit-text-stroke:1.1px #000;transform:scaleX(1.1778);">17：30〜児童クラス</div>
<div class="t" style="left:721.80px;top:1473.00px;font-size:20.992px;line-height:20.992px;font-weight:bold;-webkit-text-stroke:1.1px #000;transform:scaleX(1.2020);">18：30〜片付け</div>
<div class="t" style="left:443.63px;top:1536.40px;font-size:21.848px;line-height:21.848px;font-weight:bold;-webkit-text-stroke:1.1px #000;transform:scaleX(1.2685);">ジムエリア利用終了</div>
<div class="t" style="left:698.75px;top:1534.40px;font-size:23.178px;line-height:23.178px;transform:scaleX(1.2500);">(</div>
<div class="t" style="left:711.33px;top:1531.40px;font-size:29.702px;line-height:29.702px;font-weight:bold;-webkit-text-stroke:1.2px #000;transform:scaleX(0.6725);">1 8:4 5</div>
<div class="t" style="left:773.22px;top:1534.40px;font-size:23.178px;line-height:23.178px;transform:scaleX(1.4800);">)</div>
<div class="t" style="left:516.18px;top:1578.10px;font-size:28.660px;line-height:28.660px;font-weight:bold;-webkit-text-stroke:0.5px #000;transform:scaleX(0.7216);">CLOSE</div>
<div class="t" style="left:588.42px;top:1579.00px;font-size:22.869px;line-height:22.869px;transform:scaleX(1.1833);">(</div>
<div class="t" style="left:604.57px;top:1579.10px;font-size:29.079px;line-height:29.079px;font-weight:bold;-webkit-text-stroke:1.2px #000;transform:scaleX(1.0270);">1 9:0 0</div>
<div class="t" style="left:701.42px;top:1579.00px;font-size:22.869px;line-height:22.869px;transform:scaleX(0.8800);">)</div>
<div class="t" style="left:591.14px;top:1659.90px;font-size:22.732px;line-height:22.732px;font-weight:bold;-webkit-text-stroke:0.6px #000;transform:scaleX(0.9589);">セントラルフィットネスクラブ24青梅</div>
<div class="t" style="left:663.81px;top:558.10px;font-size:15.807px;line-height:15.807px;-webkit-text-stroke:0.2px #000;transform:scaleX(1.1736);">＜青梅屋内プール開放のお知らせ</div>
<div class="t" style="left:790.44px;top:577.00px;font-size:26.667px;line-height:26.667px;-webkit-text-stroke:0.2px #000;transform:scaleX(1.2231);">＞</div>
<div class="t" style="left:664.00px;top:647.10px;font-size:12.179px;line-height:12.179px;-webkit-text-stroke:0.2px #000;transform:scaleX(0.9667);">対</div>
<div class="t" style="left:693.91px;top:647.10px;font-size:12.614px;line-height:12.614px;-webkit-text-stroke:0.2px #000;transform:scaleX(1.0909);">象</div>
<div class="t" style="left:708.83px;top:627.00px;font-size:38.571px;line-height:38.571px;font-weight:bold;transform:scaleX(0.5217);">→</div>
<div class="t" style="left:726.33px;top:647.10px;font-size:10.884px;line-height:10.884px;-webkit-text-stroke:0.2px #000;transform:scaleX(1.2667);">青梅市民</div>
<div class="t" style="left:662.71px;top:668.90px;font-size:11.164px;line-height:11.164px;-webkit-text-stroke:0.2px #000;transform:scaleX(1.2889);">時</div>
<div class="t" style="left:693.80px;top:668.90px;font-size:11.773px;line-height:11.773px;-webkit-text-stroke:0.2px #000;transform:scaleX(1.2000);">間</div>
<div class="t" style="left:708.83px;top:649.00px;font-size:38.571px;line-height:38.571px;font-weight:bold;transform:scaleX(0.5217);">→</div>
<div class="t" style="left:726.71px;top:665.90px;font-size:15.417px;line-height:15.417px;-webkit-text-stroke:0.2px #000;transform:scaleX(0.8885);">9：00〜14：00</div>
<div class="t" style="left:821.01px;top:669.50px;font-size:10.575px;line-height:10.575px;-webkit-text-stroke:0.2px #000;transform:scaleX(0.9886);">(利用は2時間まで)</div>
<div class="t" style="left:664.00px;top:691.60px;font-size:11.506px;line-height:11.506px;-webkit-text-stroke:0.2px #000;transform:scaleX(1.0545);">料</div>
<div class="t" style="left:695.00px;top:690.60px;font-size:13.736px;line-height:13.736px;-webkit-text-stroke:0.2px #000;transform:scaleX(0.9231);">金</div>
<div class="t" style="left:708.83px;top:671.00px;font-size:38.571px;line-height:38.571px;font-weight:bold;transform:scaleX(0.5217);">→</div>
<div class="t" style="left:726.25px;top:690.60px;font-size:11.311px;line-height:11.311px;-webkit-text-stroke:0.2px #000;transform:scaleX(1.3540);">大人400円</div>
<div class="t" style="left:726.36px;top:713.60px;font-size:10.703px;line-height:10.703px;-webkit-text-stroke:0.2px #000;transform:scaleX(1.2426);">小人100円（3歳〜中学生以下）</div>
<div class="t" style="left:710.54px;top:735.40px;font-size:13.472px;line-height:13.472px;-webkit-text-stroke:0.2px #000;transform:scaleX(0.9407);">＊キャッシュレス決済のみとなります</div>
<div class="t" style="left:663.04px;top:758.40px;font-size:12.727px;line-height:12.727px;-webkit-text-stroke:0.2px #000;transform:scaleX(0.9556);">そ の 他</div>
<div class="t" style="left:708.83px;top:739.00px;font-size:38.571px;line-height:38.571px;font-weight:bold;transform:scaleX(0.5217);">→</div>
<div class="t" style="left:726.55px;top:758.40px;font-size:11.748px;line-height:11.748px;-webkit-text-stroke:0.2px #000;transform:scaleX(1.0458);">オープンロッカーのみ利用可</div>
<div class="t" style="left:661.05px;top:806.50px;font-size:10.931px;line-height:10.931px;-webkit-text-stroke:0.2px #000;transform:scaleX(1.2252);">※3歳から小学2年生のお子様は、高校生以上の</div>
<div class="t" style="left:663.50px;top:827.50px;font-size:13.472px;line-height:13.472px;-webkit-text-stroke:0.2px #000;transform:scaleX(1.0129);">方の同伴が1人につき1人必要となります。</div>
<div class="t" style="left:669.50px;top:873.50px;font-size:13.146px;line-height:13.146px;-webkit-text-stroke:0.2px #000;transform:scaleX(1.1000);">検索</div>
<div class="t" style="left:724.00px;top:872.50px;font-size:14.401px;line-height:14.401px;-webkit-text-stroke:0.2px #000;transform:scaleX(0.8929);">青梅屋</div>
<div class="t" style="left:663.56px;top:898.90px;font-size:10.703px;line-height:10.703px;-webkit-text-stroke:0.2px #000;transform:scaleX(1.1714);">クラブご案内</div>
<div class="t" style="left:153.00px;top:398.00px;font-size:13.953px;line-height:13.953px;font-weight:bold;letter-spacing:0.12em;-webkit-text-stroke:0.3px #000;transform:scaleX(0.9091);">9 : 00</div>
<div class="t" style="left:1023.50px;top:396.50px;font-size:16.153px;line-height:16.153px;font-weight:bold;letter-spacing:0.12em;-webkit-text-stroke:0.3px #000;transform:scaleX(0.8529);">9 : 00</div>
<div class="t" style="left:146.02px;top:497.50px;font-size:12.558px;line-height:12.558px;font-weight:bold;letter-spacing:0.12em;-webkit-text-stroke:0.3px #000;transform:scaleX(0.9830);">10 : 00</div>
<div class="t" style="left:1017.98px;top:497.50px;font-size:12.558px;line-height:12.558px;font-weight:bold;letter-spacing:0.12em;-webkit-text-stroke:0.3px #000;transform:scaleX(1.0213);">10 : 00</div>
<div class="t" style="left:146.00px;top:617.50px;font-size:12.558px;line-height:12.558px;font-weight:bold;letter-spacing:0.12em;-webkit-text-stroke:0.3px #000;transform:scaleX(1.0043);">11 : 00</div>
<div class="t" style="left:1017.96px;top:617.50px;font-size:12.558px;line-height:12.558px;font-weight:bold;letter-spacing:0.12em;-webkit-text-stroke:0.3px #000;transform:scaleX(1.0435);">11 : 00</div>
<div class="t" style="left:146.02px;top:735.50px;font-size:12.558px;line-height:12.558px;font-weight:bold;letter-spacing:0.12em;-webkit-text-stroke:0.3px #000;transform:scaleX(0.9830);">12 : 00</div>
<div class="t" style="left:1017.98px;top:735.50px;font-size:12.558px;line-height:12.558px;font-weight:bold;letter-spacing:0.12em;-webkit-text-stroke:0.3px #000;transform:scaleX(1.0213);">12 : 00</div>
<div class="t" style="left:146.02px;top:850.50px;font-size:12.558px;line-height:12.558px;font-weight:bold;letter-spacing:0.12em;-webkit-text-stroke:0.3px #000;transform:scaleX(0.9830);">13 : 00</div>
<div class="t" style="left:1017.98px;top:850.50px;font-size:12.558px;line-height:12.558px;font-weight:bold;letter-spacing:0.12em;-webkit-text-stroke:0.3px #000;transform:scaleX(1.0213);">13 : 00</div>
<div class="t" style="left:146.02px;top:966.50px;font-size:12.558px;line-height:12.558px;font-weight:bold;letter-spacing:0.12em;-webkit-text-stroke:0.3px #000;transform:scaleX(0.9830);">14 : 00</div>
<div class="t" style="left:1017.98px;top:966.50px;font-size:12.558px;line-height:12.558px;font-weight:bold;letter-spacing:0.12em;-webkit-text-stroke:0.3px #000;transform:scaleX(1.0213);">14 : 00</div>
<div class="t" style="left:146.02px;top:1086.50px;font-size:12.558px;line-height:12.558px;font-weight:bold;letter-spacing:0.12em;-webkit-text-stroke:0.3px #000;transform:scaleX(0.9830);">15 : 00</div>
<div class="t" style="left:1017.98px;top:1086.50px;font-size:12.558px;line-height:12.558px;font-weight:bold;letter-spacing:0.12em;-webkit-text-stroke:0.3px #000;transform:scaleX(1.0213);">15 : 00</div>
<div class="t" style="left:146.02px;top:1206.50px;font-size:12.558px;line-height:12.558px;font-weight:bold;letter-spacing:0.12em;-webkit-text-stroke:0.3px #000;transform:scaleX(0.9830);">16 : 00</div>
<div class="t" style="left:1017.98px;top:1206.50px;font-size:12.558px;line-height:12.558px;font-weight:bold;letter-spacing:0.12em;-webkit-text-stroke:0.3px #000;transform:scaleX(1.0213);">16 : 00</div>
<div class="t" style="left:146.02px;top:1326.50px;font-size:12.558px;line-height:12.558px;font-weight:bold;letter-spacing:0.12em;-webkit-text-stroke:0.3px #000;transform:scaleX(0.9830);">17 : 00</div>
<div class="t" style="left:1017.98px;top:1326.50px;font-size:12.558px;line-height:12.558px;font-weight:bold;letter-spacing:0.12em;-webkit-text-stroke:0.3px #000;transform:scaleX(1.0213);">17 : 00</div>
<div class="t" style="left:146.02px;top:1447.50px;font-size:12.558px;line-height:12.558px;font-weight:bold;letter-spacing:0.12em;-webkit-text-stroke:0.3px #000;transform:scaleX(0.9830);">18 : 00</div>
<div class="t" style="left:1017.98px;top:1447.50px;font-size:12.558px;line-height:12.558px;font-weight:bold;letter-spacing:0.12em;-webkit-text-stroke:0.3px #000;transform:scaleX(1.0213);">18 : 00</div>
</body></html>
